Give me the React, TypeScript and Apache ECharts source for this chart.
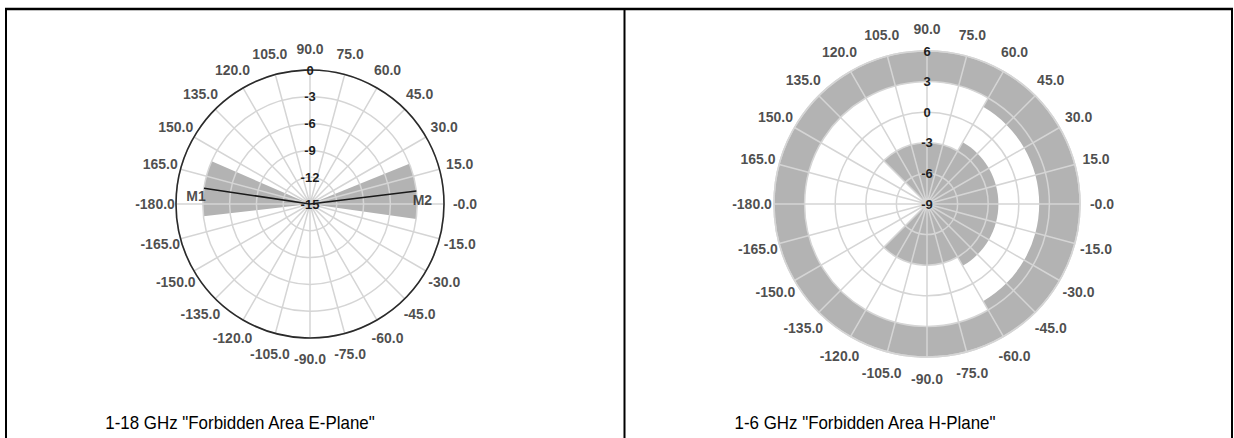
import React, { useEffect, useRef } from "react";
import * as echarts from "echarts";

// Angle ticks (physical degrees, 0 = right, counter-clockwise) and their labels
const angleTicks = [0, 15, 30, 45, 60, 75, 90, 105, 120, 135, 150, 165, 180, 195, 210, 225, 240, 255, 270, 285, 300, 315, 330, 345];
const angleTickLabels = ["-0.0", "15.0", "30.0", "45.0", "60.0", "75.0", "90.0", "105.0", "120.0", "135.0", "150.0", "165.0", "-180.0", "-165.0", "-150.0", "-135.0", "-120.0", "-105.0", "-90.0", "-75.0", "-60.0", "-45.0", "-30.0", "-15.0"];

// Radial scales (dB)
const eRadius = [-15, 0, 3]; // min, max, step
const hRadius = [-9, 6, 3];

// Forbidden areas: [inner dB, outer dB, start deg, end deg]
const eForbidden = [
  [-15, -3, -8, 22],
  [-15, -3, 156.5, 186.5],
];
const hForbidden = [
  [3, 6, 60, 300],
  [2, 6, -60, 60],
  [-9, -3, 60, 135],
  [-9, -3, 225, 300],
  [-9, -2, -60, 60],
];

// Markers on E-plane
const eMarkerNames = ["M1", "M2"];
const eMarkerAngles = [171.5, 7];
const eMarkerLevels = [-3, -3];

const titles = ['1-18 GHz "Forbidden Area E-Plane"', '1-6 GHz "Forbidden Area H-Plane"'];

const FONT = "'Liberation Sans', Arial, Helvetica, sans-serif";
const GRID = "#d5d5d5";
const GRAY = "#b3b3b3";

const toAxis = (deg: number) => (((deg - 90) % 360) + 360) % 360;

function sectorRender(params: any, api: any) {
  const cs = params.coordSys;
  const r0v = api.value(0);
  const r1v = api.value(1);
  const a0 = api.value(2);
  const a1 = api.value(3);
  const p0 = api.coord([r0v, toAxis(a0)]);
  const p1 = api.coord([r1v, toAxis(a0)]);
  const pe = api.coord([r1v, toAxis(a1)]);
  const rad0 = Math.hypot(p0[0] - cs.cx, p0[1] - cs.cy);
  const rad1 = Math.hypot(p1[0] - cs.cx, p1[1] - cs.cy);
  const start = Math.atan2(pe[1] - cs.cy, pe[0] - cs.cx);
  const sweep = ((a1 - a0) * Math.PI) / 180;
  return {
    type: "sector",
    shape: { cx: cs.cx, cy: cs.cy, r0: rad0, r: rad1, startAngle: start, endAngle: start + sweep, clockwise: true },
    style: { fill: GRAY },
  };
}

function mainAngleAxis(polarIndex: number, darkRim: boolean) {
  return {
    polarIndex,
    type: "value",
    min: 0,
    max: 360,
    interval: 15,
    startAngle: 90,
    clockwise: false,
    z: 3,
    axisLine: { show: true, lineStyle: { color: darkRim ? "#2a2a2a" : GRID, width: darkRim ? 1.6 : 1.5 } },
    axisTick: { show: false },
    axisLabel: { show: false },
    splitLine: { show: true, lineStyle: { color: GRID, width: 1.5 } },
  };
}

function mainRadiusAxis(polarIndex: number, range: number[]) {
  return {
    polarIndex,
    type: "value",
    min: range[0],
    max: range[1],
    interval: range[2],
    z: 3,
    axisLine: { show: false },
    axisTick: { show: false },
    axisLabel: {
      show: true,
      margin: 0,
      align: "center",
      verticalAlign: "middle",
      fontFamily: FONT,
      fontWeight: "bold",
      fontSize: 13,
      color: "#1e1e1e",
    },
    splitLine: { show: true, lineStyle: { color: GRID, width: 1.5 } },
  };
}

function hiddenAngleAxis(polarIndex: number) {
  return { polarIndex, type: "value", min: 0, max: 360, startAngle: 90, clockwise: false, show: false };
}
function hiddenRadiusAxis(polarIndex: number) {
  return { polarIndex, type: "value", min: 0, max: 1, show: false };
}

function angleLabelSeries(polarIndex: number) {
  return {
    type: "scatter",
    coordinateSystem: "polar",
    polarIndex,
    symbolSize: 1,
    itemStyle: { color: "rgba(0,0,0,0)" },
    z: 6,
    silent: true,
    data: angleTicks.map((a, i) => ({
      value: [1, toAxis(a)],
      label: {
        show: true,
        position: "inside",
        formatter: angleTickLabels[i],
        fontFamily: FONT,
        fontWeight: "bold",
        fontSize: 14,
        color: "#1e1e1e",
      },
    })),
  };
}

export default function App() {
  const ref = useRef<HTMLDivElement>(null);
  useEffect(() => {
    if (!ref.current) return;
    const chart = echarts.init(ref.current, undefined, { renderer: "svg" });
    const markerLine = [
      [eMarkerLevels[0], toAxis(eMarkerAngles[0])],
      [eRadius[0], toAxis(eMarkerAngles[0])],
      [eMarkerLevels[1], toAxis(eMarkerAngles[1])],
    ];
    const markerOffsets = [[-8, 8], [6, 9]];
    const option: any = {
      animation: false,
      backgroundColor: "#ffffff",
      polar: [
        { center: [310, 204], radius: 134 },
        { center: [927, 204], radius: 153 },
        { center: [310, 204], radius: 155 },
        { center: [927, 204], radius: 175 },
      ],
      angleAxis: [mainAngleAxis(0, true), mainAngleAxis(1, false), hiddenAngleAxis(2), hiddenAngleAxis(3)],
      radiusAxis: [mainRadiusAxis(0, eRadius), mainRadiusAxis(1, hRadius), hiddenRadiusAxis(2), hiddenRadiusAxis(3)],
      series: [
        {
          type: "custom",
          coordinateSystem: "polar",
          polarIndex: 0,
          z: 1,
          silent: true,
          renderItem: sectorRender,
          data: eForbidden,
        },
        {
          type: "custom",
          coordinateSystem: "polar",
          polarIndex: 1,
          z: 1,
          silent: true,
          renderItem: sectorRender,
          data: hForbidden,
        },
        {
          type: "line",
          coordinateSystem: "polar",
          polarIndex: 0,
          z: 5,
          symbol: "none",
          silent: true,
          lineStyle: { color: "#1a1a1a", width: 1.5 },
          data: markerLine,
        },
        {
          type: "scatter",
          coordinateSystem: "polar",
          polarIndex: 0,
          z: 6,
          symbolSize: 1,
          silent: true,
          itemStyle: { color: "rgba(0,0,0,0)" },
          data: eMarkerNames.map((n, i) => ({
            value: [eMarkerLevels[i], toAxis(eMarkerAngles[i])],
            label: {
              show: true,
              position: "inside",
              offset: markerOffsets[i],
              formatter: n,
              fontFamily: FONT,
              fontWeight: "bold",
              fontSize: 14,
              color: "#1e1e1e",
            },
          })),
        },
        angleLabelSeries(2),
        angleLabelSeries(3),
      ],
      graphic: [
        { type: "line", shape: { x1: 5, y1: 9, x2: 1233, y2: 9 }, style: { stroke: "#000", lineWidth: 2.5 } },
        { type: "line", shape: { x1: 6, y1: 9, x2: 6, y2: 438 }, style: { stroke: "#000", lineWidth: 2 } },
        { type: "line", shape: { x1: 624.5, y1: 9, x2: 624.5, y2: 438 }, style: { stroke: "#000", lineWidth: 2 } },
        { type: "line", shape: { x1: 1232, y1: 9, x2: 1232, y2: 438 }, style: { stroke: "#000", lineWidth: 2 } },
        {
          type: "text",
          x: 240,
          y: 423,
          scaleX: 0.94,
          style: { text: titles[0], fontFamily: FONT, fontSize: 18, fill: "#000", align: "center", verticalAlign: "middle" },
        },
        {
          type: "text",
          x: 865,
          y: 423,
          scaleX: 0.94,
          style: { text: titles[1], fontFamily: FONT, fontSize: 18, fill: "#000", align: "center", verticalAlign: "middle" },
        },
      ],
    };
    chart.setOption(option);
    return () => chart.dispose();
  }, []);
  return (
    <div
      ref={ref}
      style={{ position: "fixed", left: 0, top: 0, width: 1234, height: 438, background: "#fff" }}
    />
  );
}
